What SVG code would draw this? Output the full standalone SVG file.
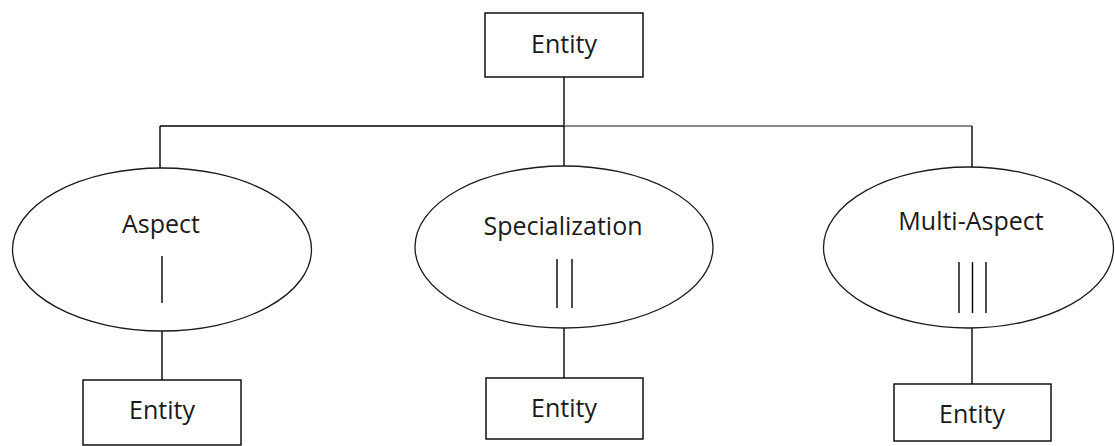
<svg xmlns="http://www.w3.org/2000/svg" width="1115" height="446" viewBox="0 0 1115 446">
<style>
.box{fill:#fff;stroke:#000;stroke-width:1.4}
.ell{fill:#fff;stroke:#1a1a1a;stroke-width:1.3}
.ln{stroke:#000;stroke-width:1.4;fill:none}
.gr{stroke:#8a8a8a;stroke-width:2;fill:none}
.t{font-family:"Open Sans","Liberation Sans",sans-serif;font-size:25px;fill:#1a1a1a;text-anchor:middle}
</style>
<rect width="1115" height="446" fill="#fff"/>
<g id="connectors">
<line class="ln" x1="564" y1="77" x2="564" y2="126"/>
<line class="ln" x1="160" y1="126" x2="564" y2="126"/>
<line class="gr" x1="564" y1="126" x2="972" y2="126"/>
<line class="ln" x1="160" y1="126" x2="160" y2="168"/>
<line class="ln" x1="564" y1="126" x2="564" y2="166"/>
<line class="ln" x1="972" y1="126" x2="972" y2="167"/>
<line class="ln" x1="162" y1="331" x2="162" y2="380"/>
<line class="ln" x1="564" y1="328" x2="564" y2="378"/>
<line class="ln" x1="972" y1="328" x2="972" y2="384"/>
</g>
<g id="entity-top">
<rect class="box" x="485" y="13" width="158" height="64"/>
<text class="t" x="564" y="53">Entity</text>
</g>
<g id="aspect">
<ellipse class="ell" cx="162" cy="249.5" rx="149.5" ry="81.5"/>
<text class="t" x="161" y="233">Aspect</text>
<line class="ln" x1="162" y1="256" x2="162" y2="303"/>
</g>
<g id="specialization">
<ellipse class="ell" cx="564" cy="247" rx="149" ry="81"/>
<text class="t" x="563" y="235">Specialization</text>
<line class="ln" x1="557" y1="259" x2="557" y2="308"/>
<line class="ln" x1="572" y1="259" x2="572" y2="308"/>
</g>
<g id="multi-aspect">
<ellipse class="ell" cx="968.5" cy="247.5" rx="145" ry="80.5"/>
<text class="t" x="971" y="230">Multi-Aspect</text>
<line class="ln" x1="959" y1="262" x2="959" y2="313"/>
<line class="ln" x1="972.5" y1="262" x2="972.5" y2="313"/>
<line class="ln" x1="986" y1="262" x2="986" y2="313"/>
</g>
<g id="entity-aspect">
<rect class="box" x="83" y="380" width="158" height="65"/>
<text class="t" x="162" y="419">Entity</text>
</g>
<g id="entity-specialization">
<rect class="box" x="486" y="378" width="157" height="61"/>
<text class="t" x="564" y="417">Entity</text>
</g>
<g id="entity-multi">
<rect class="box" x="894" y="384" width="157" height="57"/>
<text class="t" x="972" y="423">Entity</text>
</g>
</svg>
